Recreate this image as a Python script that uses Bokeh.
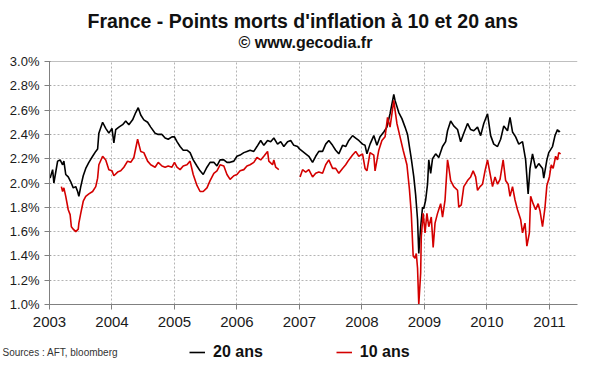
from bokeh.plotting import figure
from bokeh.layouts import column
from bokeh.models import Range1d, FixedTicker, PrintfTickFormatter, Span, Legend, LegendItem, Title, Label
from bokeh.embed import file_html
from bokeh.resources import INLINE

NaN = float("nan")

TITLE = "France - Points morts d'inflation à 10 et 20 ans"
SUBTITLE = "© www.gecodia.fr"
SOURCE = "Sources : AFT, bloomberg"
SERIES_NAMES = ["20 ans", "10 ans"]
YEARS = [2003, 2004, 2005, 2006, 2007, 2008, 2009, 2010, 2011]
Y_TICKS = [1.0, 1.2, 1.4, 1.6, 1.8, 2.0, 2.2, 2.4, 2.6, 2.8, 3.0]

# 20-year breakeven (black), x in fractional years, y in %
t20 = [2003.01, 2003.05, 2003.07, 2003.13, 2003.17, 2003.21, 2003.23, 2003.26, 2003.30, 2003.34,
       2003.38, 2003.42, 2003.45, 2003.47, 2003.50, 2003.54, 2003.58, 2003.63, 2003.69, 2003.74,
       2003.77, 2003.79, 2003.85, 2003.90, 2003.95, 2004.00, 2004.03, 2004.06, 2004.11, 2004.17,
       2004.22, 2004.27, 2004.33, 2004.38, 2004.42, 2004.46, 2004.51, 2004.57, 2004.62, 2004.69,
       2004.74, 2004.80, 2004.85, 2004.90, 2004.96, 2005.00, 2005.04, 2005.09, 2005.14, 2005.20,
       2005.25, 2005.30, 2005.36, 2005.41, 2005.46, 2005.52, 2005.57, 2005.63, 2005.68, 2005.73,
       2005.79, 2005.84, 2005.89, 2005.95, 2006.00, 2006.05, 2006.11, 2006.16, 2006.21, 2006.27,
       2006.32, 2006.38, 2006.43, 2006.49, 2006.54, 2006.59, 2006.65, 2006.70, 2006.75, 2006.81,
       2006.86, 2006.91, 2006.97, 2007.00, 2007.05, 2007.10, 2007.15, 2007.21, 2007.26, 2007.31,
       2007.37, 2007.42, 2007.47, 2007.53, 2007.58, 2007.63, 2007.69, 2007.74, 2007.79, 2007.85,
       2007.90, 2007.95, 2008.01, 2008.05, 2008.08, 2008.13, 2008.19, 2008.24, 2008.29, 2008.35,
       2008.40, 2008.45, 2008.51, 2008.53, 2008.59, 2008.64, 2008.69, 2008.73, 2008.76, 2008.79,
       2008.83, 2008.86, 2008.89, 2008.91, 2008.94, 2008.97, 2008.99, 2009.02, 2009.05, 2009.07,
       2009.10, 2009.13, 2009.18, 2009.23, 2009.29, 2009.34, 2009.37, 2009.42, 2009.47, 2009.53,
       2009.58, 2009.63, 2009.69, 2009.74, 2009.79, 2009.85, 2009.90, 2009.95, 2010.01, 2010.06,
       2010.11, 2010.17, 2010.22, 2010.27, 2010.33, 2010.37, 2010.41, 2010.46, 2010.51, 2010.57,
       2010.62, 2010.66, 2010.69, 2010.73, 2010.78, 2010.83, 2010.89, 2010.91, 2010.96, 2010.99,
       2011.05, 2011.09, 2011.13, 2011.15, 2011.17]
v20 = [2.04, 2.11, 2.00, 2.18, 2.19, 2.15, 2.18, 2.07, 2.05, 2.01,
       1.96, 1.97, 1.93, 1.89, 1.97, 2.06, 2.12, 2.17, 2.22, 2.26,
       2.28, 2.41, 2.50, 2.45, 2.41, 2.45, 2.33, 2.44, 2.46, 2.48,
       2.51, 2.48, 2.52, 2.58, 2.62, 2.56, 2.52, 2.50, 2.46, 2.41,
       2.40, 2.40, 2.37, 2.36, 2.38, 2.38, 2.34, 2.30, 2.27, 2.27,
       2.25, 2.19, 2.14, 2.10, 2.07, 2.13, 2.17, 2.17, 2.14, 2.19,
       2.19, 2.17, 2.17, 2.18, 2.22, 2.23, 2.25, 2.26, 2.27, 2.26,
       2.30, 2.35, 2.31, 2.35, 2.34, 2.37, 2.32, 2.34, 2.30, 2.34,
       2.35, 2.31, 2.30, 2.28, 2.26, 2.24, 2.22, 2.17, 2.22, 2.26,
       2.26, 2.32, 2.35, 2.31, 2.27, 2.24, 2.31, 2.30, 2.35, 2.39,
       2.37, 2.35, 2.32, 2.31, 2.24, 2.32, 2.39, 2.31, 2.38, 2.42,
       2.46, 2.57, 2.73, 2.68, 2.58, 2.53, 2.46, 2.40, 2.30, 2.20,
       2.05, 1.90, 1.70, 1.42, 1.64, 1.80, 1.79, 1.86, 1.99, 2.19,
       2.08, 2.20, 2.24, 2.21, 2.30, 2.34, 2.43, 2.51, 2.47, 2.44,
       2.34, 2.41, 2.49, 2.44, 2.43, 2.46, 2.39, 2.49, 2.57, 2.39,
       2.32, 2.30, 2.36, 2.47, 2.43, 2.54, 2.42, 2.38, 2.32, 2.34,
       2.19, 1.91, 2.12, 2.24, 2.12, 2.16, 2.12, 2.04, 2.19, 2.25,
       2.30, 2.39, 2.44, 2.42, 2.43]

# 10-year breakeven (red); NaN marks the missing stretch late 2006
t10 = [2003.19, 2003.21, 2003.23, 2003.26, 2003.30, 2003.33, 2003.35, 2003.38, 2003.42, 2003.46,
       2003.47, 2003.50, 2003.54, 2003.58, 2003.63, 2003.69, 2003.74, 2003.77, 2003.79, 2003.85,
       2003.90, 2003.95, 2004.00, 2004.03, 2004.09, 2004.14, 2004.19, 2004.25, 2004.30, 2004.35,
       2004.41, 2004.46, 2004.51, 2004.57, 2004.62, 2004.69, 2004.74, 2004.80, 2004.85, 2004.90,
       2004.96, 2005.00, 2005.04, 2005.09, 2005.14, 2005.20, 2005.25, 2005.30, 2005.36, 2005.41,
       2005.46, 2005.52, 2005.57, 2005.63, 2005.68, 2005.73, 2005.79, 2005.84, 2005.89, 2005.95,
       2006.00, 2006.05, 2006.11, 2006.16, 2006.21, 2006.27, 2006.32, 2006.38, 2006.43, 2006.49,
       2006.51, 2006.57, 2006.59, 2006.62, 2006.67, 2006.84, 2007.01, 2007.05, 2007.10, 2007.15,
       2007.21, 2007.26, 2007.31, 2007.37, 2007.42, 2007.47, 2007.53, 2007.58, 2007.63, 2007.69,
       2007.74, 2007.79, 2007.85, 2007.90, 2007.95, 2008.01, 2008.05, 2008.08, 2008.13, 2008.19,
       2008.21, 2008.27, 2008.32, 2008.37, 2008.41, 2008.45, 2008.51, 2008.53, 2008.56, 2008.61,
       2008.66, 2008.72, 2008.76, 2008.79, 2008.82, 2008.85, 2008.87, 2008.89, 2008.91, 2008.94,
       2008.95, 2008.98, 2009.01, 2009.04, 2009.07, 2009.11, 2009.14, 2009.17, 2009.21, 2009.26,
       2009.29, 2009.33, 2009.37, 2009.39, 2009.42, 2009.47, 2009.53, 2009.55, 2009.59, 2009.63,
       2009.69, 2009.74, 2009.78, 2009.82, 2009.85, 2009.89, 2009.93, 2009.97, 2010.01, 2010.05,
       2010.09, 2010.13, 2010.17, 2010.21, 2010.26, 2010.30, 2010.34, 2010.37, 2010.41, 2010.45,
       2010.49, 2010.54, 2010.57, 2010.61, 2010.64, 2010.68, 2010.70, 2010.74, 2010.78, 2010.82,
       2010.85, 2010.89, 2010.93, 2010.96, 2011.00, 2011.03, 2011.06, 2011.10, 2011.13, 2011.15,
       2011.18]
v10 = [1.97, 1.93, 1.96, 1.89, 1.78, 1.74, 1.64, 1.62, 1.60, 1.62,
       1.67, 1.75, 1.85, 1.89, 1.91, 1.93, 1.97, 2.04, 2.15, 2.22,
       2.19, 2.11, 2.10, 2.06, 2.09, 2.10, 2.13, 2.18, 2.17, 2.21,
       2.36, 2.26, 2.25, 2.18, 2.15, 2.13, 2.17, 2.14, 2.13, 2.14,
       2.13, 2.17, 2.13, 2.11, 2.14, 2.15, 2.18, 2.07, 1.98, 1.93,
       1.93, 1.96, 2.02, 2.08, 2.10, 2.15, 2.14, 2.07, 2.03, 2.06,
       2.07, 2.10, 2.11, 2.14, 2.15, 2.17, 2.21, 2.19, 2.22, 2.26,
       2.18, 2.15, 2.19, 2.13, 2.11, NaN, 2.05, 2.11, 2.09, 2.11,
       2.05, 2.08, 2.09, 2.08, 2.15, 2.19, 2.12, 2.12, 2.08, 2.12,
       2.15, 2.19, 2.23, 2.26, 2.22, 2.24, 2.12, 2.10, 2.25, 2.23,
       2.10, 2.27, 2.35, 2.38, 2.54, 2.46, 2.68, 2.60, 2.49, 2.38,
       2.27, 2.15, 1.95, 1.75, 1.40, 1.38, 1.42, 1.30, 1.00, 1.26,
       1.56, 1.75, 1.59, 1.75, 1.64, 1.72, 1.47, 1.67, 1.75, 1.83,
       1.72, 1.86, 2.19, 2.13, 2.02, 1.97, 1.94, 1.80, 1.82, 1.97,
       2.02, 2.05, 2.10, 2.05, 1.94, 1.97, 1.99, 2.10, 2.19, 2.08,
       1.97, 2.05, 1.99, 2.03, 2.19, 2.02, 1.99, 1.89, 1.97, 1.86,
       1.78, 1.70, 1.59, 1.67, 1.48, 1.59, 1.89, 1.83, 1.78, 1.83,
       1.77, 1.64, 1.80, 1.98, 2.05, 2.15, 2.12, 2.22, 2.19, 2.25,
       2.24]

FONT = "Liberation Sans"
GRID = "#b4b4b4"
AXIS = "#808080"
BLACK = "black"
RED = "#d40000"

# ---------------- main chart ----------------
p = figure(width=590, height=337, output_backend="svg", toolbar_location=None,
           x_range=Range1d(2003.0, 2011.45), y_range=Range1d(1.0, 3.0),
           min_border_left=49, min_border_right=13, min_border_top=61, min_border_bottom=33)
p.frame_align = False
p.outline_line_color = None
p.background_fill_color = "white"
p.border_fill_color = "white"

p.xaxis.ticker = FixedTicker(ticks=YEARS)
p.xaxis.formatter = PrintfTickFormatter(format="%d")
p.yaxis.ticker = FixedTicker(ticks=Y_TICKS)
p.yaxis.formatter = PrintfTickFormatter(format="%.1f%%")
for ax in (p.xaxis[0], p.yaxis[0]):
    ax.axis_line_color = AXIS
    ax.major_tick_line_color = AXIS
    ax.minor_tick_line_color = None
    ax.major_label_text_font = FONT
    ax.major_label_text_color = "#1a1a1a"
p.xaxis.major_label_text_font_size = "15px"
p.xaxis.major_tick_out = 5
p.xaxis.major_tick_in = 0
p.xaxis.major_label_standoff = 7
p.yaxis.major_label_text_font_size = "13px"
p.yaxis.major_tick_out = 5
p.yaxis.major_tick_in = 1
p.yaxis.major_label_standoff = 5

p.xgrid.ticker = FixedTicker(ticks=YEARS)
p.ygrid.ticker = FixedTicker(ticks=Y_TICKS)
for g in (p.xgrid[0], p.ygrid[0]):
    g.grid_line_color = GRID
    g.grid_line_dash = "2 2"
    g.grid_line_width = 1
p.add_layout(Span(location=3.0, dimension="width", line_color=AXIS, line_width=1))

r20 = p.line(t20, v20, line_color=BLACK, line_width=1.6)
r10 = p.line(t10, v10, line_color=RED, line_width=1.6)

p.add_layout(Title(text=SUBTITLE, align="left", offset=189, vertical_align="middle", standoff=20,
                   text_font=FONT, text_font_size="16px", text_font_style="bold",
                   text_color="#111111"), "above")
p.add_layout(Title(text=TITLE, align="left", offset=38, vertical_align="middle", standoff=-21,
                   text_font=FONT, text_font_size="19.5px", text_font_style="bold",
                   text_color="#111111"), "above")

# ---------------- footer: source + legend ----------------
f = figure(width=590, height=31, output_backend="svg", toolbar_location=None,
           x_axis_type=None, y_axis_type=None, x_range=Range1d(0, 1), y_range=Range1d(0, 1),
           min_border=0, min_border_left=0, min_border_right=0, min_border_top=0, min_border_bottom=0)
f.frame_align = False
f.outline_line_color = None
f.grid.visible = False
f.background_fill_color = "white"
f.border_fill_color = "white"

# legend keys: same series, lying outside this footer's (0..1) ranges so only the keys show
k20 = f.line(t20, v20, line_color=BLACK, line_width=1.6)
k10 = f.line(t10, v10, line_color=RED, line_width=1.6)

src = Label(x=2, y=16, x_units="screen", y_units="screen", text=SOURCE,
            text_align="left", text_baseline="middle", text_font_size="10px", text_color="#333333")
src.text_font = FONT
f.add_layout(src)

legend = Legend(items=[LegendItem(label=SERIES_NAMES[0], renderers=[k20]),
                       LegendItem(label=SERIES_NAMES[1], renderers=[k10])],
                location=(189, 6), orientation="horizontal",
                label_text_font=FONT, label_text_font_size="16px", label_text_font_style="bold",
                label_text_color="#111111", glyph_width=16, glyph_height=20, label_height=20,
                label_standoff=8, spacing=73,
                padding=0, margin=0, border_line_color=None, background_fill_alpha=0)
f.add_layout(legend)

layout = column(p, f, spacing=0)
open("out.html", "w").write(file_html(layout, INLINE))
